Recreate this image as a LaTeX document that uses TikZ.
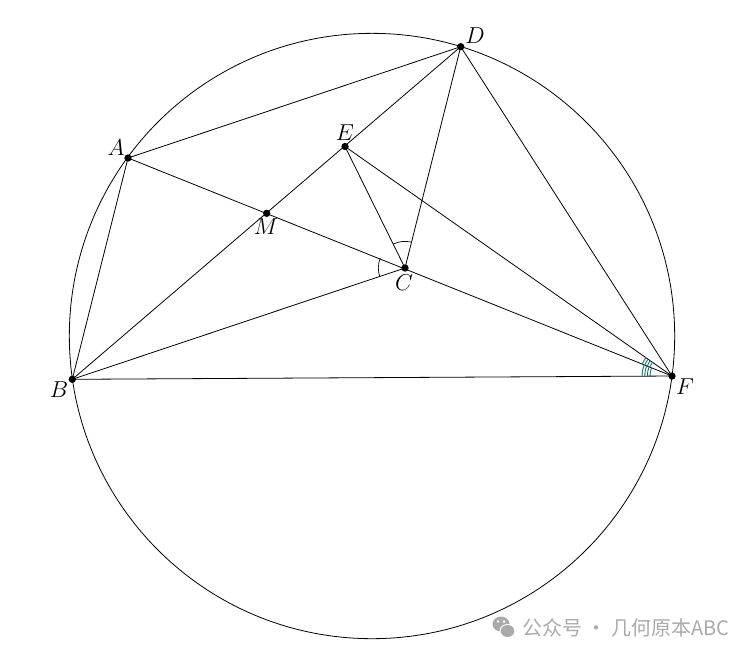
\documentclass[tikz,border=0pt]{standalone}
\usepackage{fontspec}
\newfontfamily\cjk{Noto Sans CJK SC}
\definecolor{markteal}{RGB}{30,120,110}
\definecolor{wmgray}{RGB}{170,170,170}
\begin{document}
\begin{tikzpicture}[x=0.75pt,y=-0.75pt,
  seg/.style={line width=0.6pt},
  dot/.style={circle,fill=black,inner sep=0pt,minimum size=5.5pt},
  lbl/.style={font=\fontsize{16}{18}\selectfont},
  angmark/.style={draw,line width=0.5pt},
  tmark/.style={draw=markteal,line width=0.7pt}]
\useasboundingbox (0,0) rectangle (752,658);
\coordinate (O) at (372,336);
\coordinate (A) at (128,158);
\coordinate (B) at (72.3,379.3);
\coordinate (C) at (405,268);
\coordinate (D) at (460.7,46.7);
\coordinate (E) at (345,146.5);
\coordinate (F) at (672,376);
\coordinate (M) at (266.7,213.3);
\draw[seg] (O) circle[radius=227pt];
\draw[seg] (A) -- (D);
\draw[seg] (A) -- (B);
\draw[seg] (A) -- (F);
\draw[seg] (B) -- (D);
\draw[seg] (B) -- (C);
\draw[seg] (B) -- (F);
\draw[seg] (D) -- (C);
\draw[seg] (D) -- (F);
\draw[seg] (E) -- (C);
\draw[seg] (E) -- (F);
% angle marks at C (canvas angles)
\draw[angmark] (C) ++(158.3:20pt) arc[start angle=158.3, end angle=198.5, radius=20pt];
\draw[angmark] (C) ++(75.9:20pt) arc[start angle=75.9, end angle=116.3, radius=20pt];
% angle marks at F
\foreach \r in {16.5,18.5,20.5,22.5}{
  \draw[tmark] (F) ++(158:\r pt) arc[start angle=158, end angle=180.3, radius=\r pt];
}
\foreach \r in {18,20,22,24}{
  \draw[tmark] (F) ++(144.9:\r pt) arc[start angle=144.9, end angle=158, radius=\r pt];
}
\foreach \p in {A,B,C,D,E,F,M} \node[dot] (n\p) at (\p) {};
\node[lbl] (lA) at (116,148) {$A$};
\node[lbl] (lB) at (59,390) {$B$};
\node[lbl] (lC) at (404,283) {$C$};
\node[lbl] (lD) at (475,36) {$D$};
\node[lbl] (lE) at (345,133) {$E$};
\node[lbl] (lF) at (685,387) {$F$};
\node[lbl] (lM) at (266,227) {$M$};
% watermark
\fill[wmgray] (501,624) ellipse[x radius=8.5, y radius=7.5];
\fill[white] (507.5,631) ellipse[x radius=8, y radius=7];
\fill[wmgray] (507.5,631) ellipse[x radius=6.8, y radius=6];
\fill[white] (498,621.5) circle[radius=1.1pt];
\fill[white] (504,621.5) circle[radius=1.1pt];
\node[anchor=west,inner sep=0pt,text=wmgray,font=\cjk\fontsize{15}{17}\selectfont] (wm) at (522,628) {公众号 · 几何原本ABC};
\end{tikzpicture}
\end{document}
